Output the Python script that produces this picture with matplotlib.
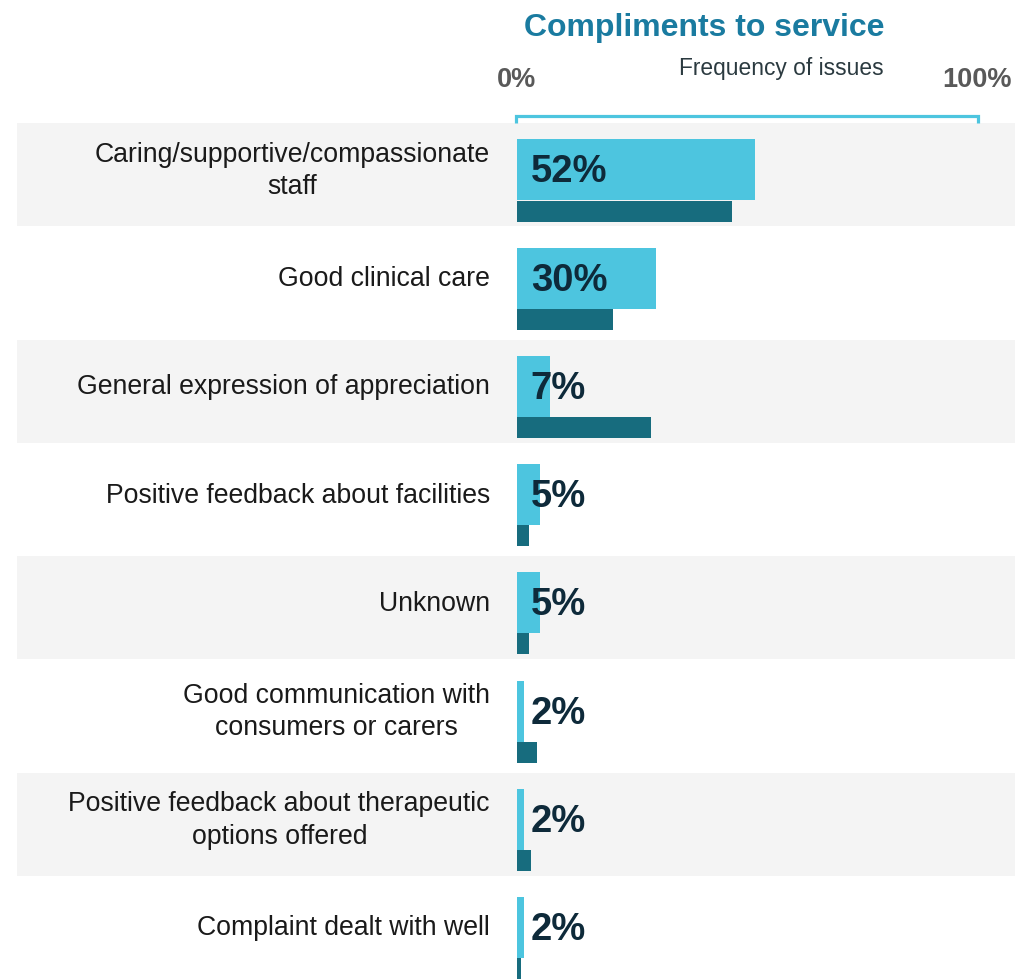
import matplotlib
matplotlib.use("Agg")
import matplotlib.pyplot as plt

plt.rcParams['font.family'] = ['Liberation Sans', 'DejaVu Sans']

categories = [
    "Caring/supportive/compassionate\nstaff",
    "Good clinical care",
    "General expression of appreciation",
    "Positive feedback about facilities",
    "Unknown",
    "Good communication with\nconsumers or carers",
    "Positive feedback about therapeutic\noptions offered",
    "Complaint dealt with well",
]
current_pct = [51.8, 30.2, 7.1, 5.0, 5.0, 1.6, 1.6, 1.6]
value_labels = ["52%", "30%", "7%", "5%", "5%", "2%", "2%", "2%"]
comparison_pct = [46.8, 20.9, 29.1, 2.6, 2.6, 4.3, 3.0, 0.8]

title = "Compliments to service"
subtitle = "Frequency of issues"
axis_min_label = "0%"
axis_max_label = "100%"

LIGHT = "#4DC5DF"
DARK = "#176C7E"
BAND = "#F4F4F4"
TITLE_C = "#1A7BA0"
VAL_C = "#0E2A3A"
GRAY = "#595959"

W, H = 1024, 980
fig = plt.figure(figsize=(W / 100, H / 100), dpi=100)
ax = fig.add_axes([0, 0, 1, 1])
# x: 0% at px 517, 100% at px 977
px_per = 4.6
x0px = 517
ax.set_xlim(-x0px / px_per, (W - x0px) / px_per)
ax.set_ylim(H, 0)
ax.axis("off")

ROW0 = 139.5
PITCH = 108.2
LH = 61
DH = 21

for i, cat in enumerate(categories):
    top = ROW0 + i * PITCH
    if i % 2 == 0:
        ax.axhspan(top - 16, top + LH + DH + 5, xmin=17 / W, xmax=1015 / W,
                   color=BAND, zorder=0, lw=0)
    ax.barh(top + LH / 2, current_pct[i], height=LH, left=0, color=LIGHT,
            zorder=2, lw=0)
    ax.barh(top + LH / 2 + LH / 2 + DH / 2, comparison_pct[i], height=DH,
            left=0, color=DARK, zorder=2, lw=0)
    ax.text(3.0, top + LH / 2 + 2.5, value_labels[i], fontsize=27.5,
            fontweight="bold", color=VAL_C, ha="left", va="center", zorder=3)
    ax.text(-27 / px_per, top + LH / 2 + 1, cat, fontsize=19.2,
            color="#1a1a1a", ha="right", va="center",
            multialignment="center", linespacing=1.33, zorder=3)

# bracket
ax.plot([-0.3, -0.3, 100.3, 100.3], [123, 116, 116, 123], color=LIGHT,
        lw=2.3, solid_joinstyle="miter", solid_capstyle="butt", zorder=3,
        clip_on=False)

fig.text(704 / W, 1 - 28 / H, title, fontsize=23, fontweight="bold",
         color=TITLE_C, ha="center", va="center")
fig.text(781 / W, 1 - 68 / H, subtitle, fontsize=16.4, color="#2b3a40",
         ha="center", va="center")
fig.text(516 / W, 1 - 80 / H, axis_min_label, fontsize=19.5,
         fontweight="bold", color=GRAY, ha="center", va="center")
fig.text(977 / W, 1 - 80 / H, axis_max_label, fontsize=19.5,
         fontweight="bold", color=GRAY, ha="center", va="center")

fig.savefig("out.png", dpi=100)
